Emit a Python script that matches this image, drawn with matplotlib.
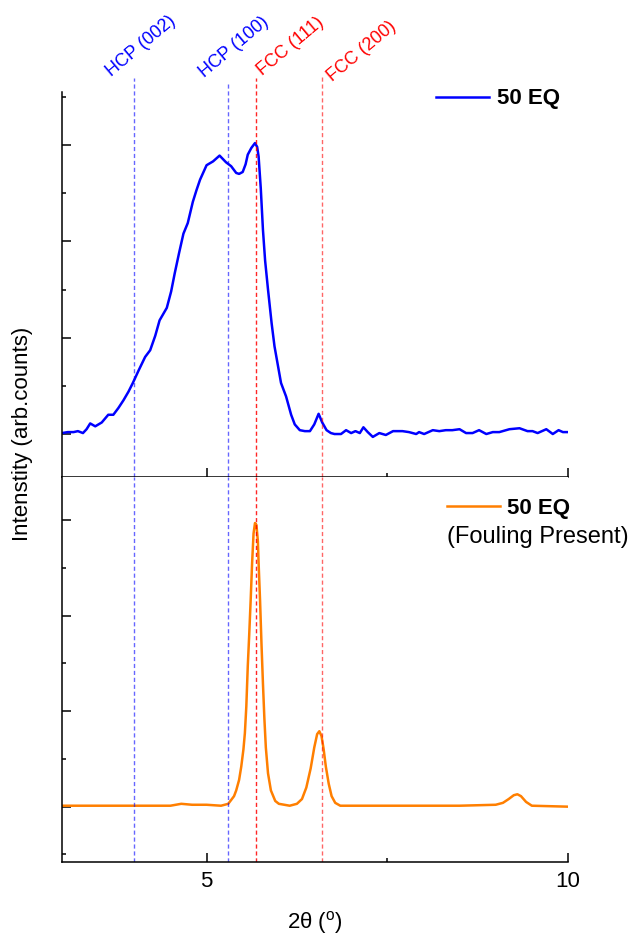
import matplotlib
matplotlib.use("Agg")
import matplotlib.pyplot as plt

plt.rcParams['font.family'] = ['Liberation Sans', 'DejaVu Sans']

# 50 EQ (top)
x_top = [3.0, 3.08, 3.16, 3.22, 3.29, 3.34, 3.39, 3.46, 3.55, 3.64, 3.71, 3.78, 3.85, 3.92,
         3.98, 4.06, 4.15, 4.22, 4.29, 4.35, 4.45, 4.51, 4.56, 4.62, 4.68, 4.74, 4.81, 4.86,
         4.91, 5.0, 5.09, 5.18, 5.27, 5.34, 5.41, 5.45, 5.50, 5.54, 5.57, 5.62, 5.67, 5.70,
         5.72, 5.75, 5.78, 5.81, 5.85, 5.90, 5.94, 6.03, 6.10, 6.17, 6.22, 6.29, 6.36, 6.43,
         6.49, 6.55, 6.60, 6.66, 6.72, 6.77, 6.86, 6.93, 7.0, 7.06, 7.12, 7.17, 7.23, 7.30,
         7.39, 7.48, 7.58, 7.71, 7.80, 7.90, 7.94, 8.01, 8.13, 8.22, 8.31, 8.40, 8.50, 8.59,
         8.68, 8.77, 8.87, 8.96, 9.05, 9.19, 9.33, 9.44, 9.51, 9.58, 9.70, 9.79, 9.87, 9.93, 10.0]
y_top = [0.01, 0.02, 0.02, 0.03, 0.01, 0.05, 0.11, 0.08, 0.12, 0.20, 0.20, 0.27, 0.35, 0.44,
         0.53, 0.66, 0.80, 0.87, 1.02, 1.18, 1.31, 1.48, 1.67, 1.88, 2.08, 2.19, 2.41, 2.53,
         2.64, 2.79, 2.83, 2.89, 2.82, 2.78, 2.71, 2.70, 2.72, 2.80, 2.90, 2.97, 3.02, 2.98,
         2.88, 2.55, 2.12, 1.80, 1.50, 1.15, 0.91, 0.53, 0.39, 0.20, 0.10, 0.04, 0.03, 0.03,
         0.10, 0.21, 0.12, 0.04, 0.01, 0.00, 0.00, 0.04, 0.01, 0.03, 0.01, 0.07, 0.02, -0.03,
         0.01, -0.01, 0.03, 0.03, 0.02, 0.00, 0.02, 0.00, 0.04, 0.03, 0.04, 0.04, 0.05, 0.01,
         0.01, 0.04, 0.00, 0.02, 0.02, 0.05, 0.06, 0.03, 0.03, 0.01, 0.05, 0.00, 0.04, 0.02, 0.02]

# 50 EQ, fouling present (bottom)
x_bot = [3.0, 3.5, 4.0, 4.5, 4.65, 4.8, 5.0, 5.2, 5.3, 5.34, 5.38, 5.41, 5.45, 5.48, 5.51,
         5.53, 5.55, 5.57, 5.59, 5.61, 5.63, 5.65, 5.67, 5.69, 5.71, 5.72, 5.74, 5.76, 5.78,
         5.80, 5.82, 5.85, 5.89, 5.95, 6.0, 6.15, 6.25, 6.32, 6.38, 6.44, 6.49, 6.53, 6.56,
         6.59, 6.62, 6.65, 6.69, 6.73, 6.78, 6.85, 7.5, 8.5, 9.0, 9.1, 9.18, 9.25, 9.30, 9.35,
         9.42, 9.5, 10.0]
y_bot = [0.01, 0.01, 0.01, 0.01, 0.03, 0.02, 0.02, 0.01, 0.03, 0.07, 0.11, 0.17, 0.28, 0.42, 0.60,
         0.77, 1.05, 1.47, 1.80, 2.16, 2.55, 2.86, 2.97, 2.95, 2.78, 2.55, 2.16, 1.70, 1.29,
         0.92, 0.62, 0.35, 0.17, 0.06, 0.03, 0.01, 0.03, 0.08, 0.20, 0.40, 0.62, 0.76, 0.79,
         0.74, 0.60, 0.42, 0.24, 0.11, 0.04, 0.01, 0.01, 0.01, 0.02, 0.04, 0.08, 0.12, 0.13, 0.11,
         0.05, 0.01, 0.0]

peak_pos = [4.0, 5.29, 5.69, 6.6]
peak_names = ['HCP (002)', 'HCP (100)', 'FCC (111)', 'FCC (200)']
peak_colors = ['#0000ff', '#0000ff', '#ff0000', '#ff0000']

fig = plt.figure(figsize=(6.32, 9.36), dpi=100)
ax1 = fig.add_axes([0.0981, 0.4907, 0.8006, 0.4110])
ax2 = fig.add_axes([0.0981, 0.0794, 0.8006, 0.4113], sharex=ax1)

ax1.plot(x_top, y_top, color='#0000ff', lw=1.8, label='50 EQ')
ax2.plot(x_bot, y_bot, color='#ff7f00', lw=1.8, label='50 EQ')

# reference lines
line_top = [1.036, 1.02, 1.036, 1.042]
text_off = [(-23, 1), (-23, 6), (6, 2), (10, -6)]
for p, name, c, top, off in zip(peak_pos, peak_names, peak_colors, line_top, text_off):
    a = 0.85 if p == 5.69 else 0.6
    ax1.axvline(p, ymin=0, ymax=top, color=c, lw=1.0, ls=(0, (3, 2)), alpha=a, clip_on=False)
    ax2.axvline(p, color=c, lw=1.0, ls=(0, (3, 2)), alpha=a)
    ax1.annotate(name, xy=(p, top), xycoords=ax1.get_xaxis_transform(),
                 xytext=off, textcoords='offset pixels', color=c, fontsize=13,
                 rotation=40, rotation_mode='anchor', ha='left', va='baseline')

ax1.set_xlim(3, 10)
ax1.set_ylim(-0.443, 3.55)
ax2.set_ylim(-0.576, 3.455)

for ax in (ax1, ax2):
    for s in ('top', 'right'):
        ax.spines[s].set_visible(False)
    for s in ('left', 'bottom'):
        ax.spines[s].set_linewidth(1.1)
    ax.set_xticks([5, 10])
    ax.set_xticks([7.5], minor=True)
    ax.tick_params(which='major', direction='in', length=6.5, width=1.1)
    ax.tick_params(which='minor', direction='in', length=3.2, width=1.1)
    ax.tick_params(axis='y', labelleft=False)

ax1.set_yticks([0, 1, 2, 3])
ax1.set_yticks([0.5, 1.5, 2.5, 3.5], minor=True)
ax2.set_yticks([0, 1, 2, 3])
ax2.set_yticks([-0.5, 0.5, 1.5, 2.5], minor=True)
ax1.tick_params(axis='x', labelbottom=False)
ax2.tick_params(axis='x', labelsize=16, pad=7)

ax2.set_xlabel('2\u03b8 ($\\mathregular{^o}$)', fontsize=16, labelpad=12)
fig.text(0.035, 1 - 434 / 936, 'Intenstity (arb.counts)', rotation=90,
         ha='center', va='center', fontsize=16)

leg1 = ax1.legend(loc='center left', bbox_to_anchor=(0.739, 0.982), frameon=False,
                  prop={'weight': 'bold', 'size': 16}, handlelength=2.4,
                  handletextpad=0.36, borderpad=0, borderaxespad=0)
leg2 = ax2.legend(loc='center left', bbox_to_anchor=(0.761, 0.9187), frameon=False,
                  prop={'weight': 'bold', 'size': 16}, handlelength=2.4,
                  handletextpad=0.3, borderpad=0, borderaxespad=0)
ax2.text(0.761, 0.843, '(Fouling Present)', transform=ax2.transAxes,
         ha='left', va='center', fontsize=17)

fig.savefig('out.png', dpi=100)
